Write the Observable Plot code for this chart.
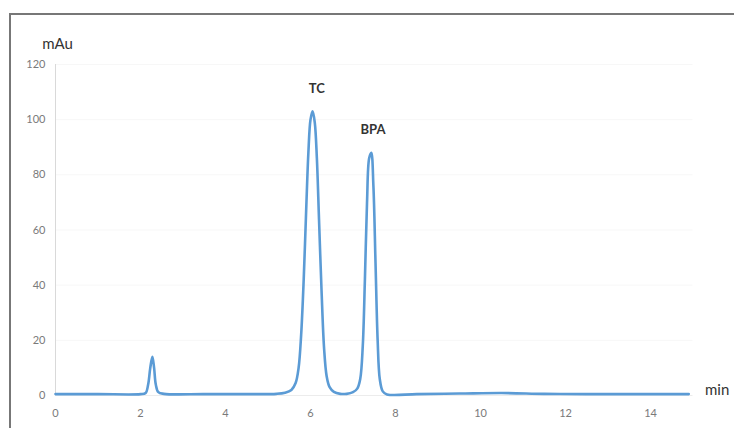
<!DOCTYPE html>
<html>
<head>
<meta charset="utf-8">
<script src="https://cdn.jsdelivr.net/npm/d3@7"></script>
<script src="https://cdn.jsdelivr.net/npm/@observablehq/plot@0.6"></script>
<style>
  html, body { margin: 0; padding: 0; background: #fff; overflow: hidden; }
  #wrap { position: relative; width: 734px; height: 428px; }
  #border { position: absolute; left: 9px; top: 13px; width: 740px; height: 430px; border-left: 2px solid #777; border-top: 2px solid #777; pointer-events: none; }
  #chart { position: absolute; left: 0; top: 0; }
</style>
</head>
<body>
<div id="wrap"><div id="chart"></div><div id="border"></div></div>
<script>
// Retention time (min) and absorbance (mAu)
const time = [0, 1.0, 2.0, 2.12, 2.18, 2.23, 2.28, 2.32, 2.36, 2.42, 2.55, 3.5, 4.5, 5.2, 5.4, 5.55, 5.65, 5.72, 5.78, 5.84, 5.9, 5.95, 6.0, 6.05, 6.1, 6.15, 6.2, 6.26, 6.32, 6.38, 6.45, 6.55, 6.7, 6.85, 7.0, 7.1, 7.17, 7.23, 7.28, 7.33, 7.38, 7.43, 7.48, 7.53, 7.58, 7.63, 7.7, 7.8, 8.5, 9.5, 10.5, 11.5, 12.5, 13.5, 14.9];
const absorbance = [0.5, 0.5, 0.5, 0.9, 4, 10, 14, 10, 4, 1.2, 0.6, 0.5, 0.5, 0.6, 1.0, 2.0, 4.5, 10, 22, 42, 68, 88, 100, 103, 99, 86, 64, 38, 17, 7, 3, 1.3, 0.6, 0.6, 1.2, 2.5, 6, 18, 42, 70, 86, 88, 76, 48, 20, 6, 1.5, 0.4, 0.5, 0.7, 0.9, 0.6, 0.5, 0.5, 0.5];

const peakNames = ["TC", "BPA"];
const peakX = [6.15, 7.47];
const peakY = [103, 88];

const xTicks = [0, 2, 4, 6, 8, 10, 12, 14];
const yTicks = [0, 20, 40, 60, 80, 100, 120];

const signal = time.map((t, i) => ({t, v: absorbance[i]}));
const peaks = peakNames.map((n, i) => ({name: n, x: peakX[i], y: peakY[i]}));

const chart = Plot.plot({
  width: 734,
  height: 428,
  marginLeft: 55,
  marginRight: 41.5,
  marginTop: 64,
  marginBottom: 33,
  style: {fontFamily: "Lato, 'Open Sans', sans-serif", background: "transparent"},
  x: {domain: [0, 15]},
  y: {domain: [0, 120]},
  marks: [
    Plot.gridY(yTicks.slice(1), {stroke: "#f7f7f7", strokeOpacity: 1}),
    Plot.ruleX([0], {stroke: "#d9d9d9", strokeWidth: 1}),
    Plot.ruleY([0], {stroke: "#ececec", strokeWidth: 1}),
    Plot.axisX({ticks: xTicks, tickSize: 0, tickPadding: 14, fontSize: 11, color: "#7a7a7a", label: null}),
    Plot.axisY({ticks: yTicks, tickSize: 0, tickPadding: 10, fontSize: 11, color: "#7a7a7a", label: null}),
    Plot.line(signal, {x: "t", y: "v", stroke: "#5b9bd5", strokeWidth: 2.6, curve: "catmull-rom"}),
    Plot.text(peaks, {x: "x", y: "y", text: "name", dy: -23, fontSize: 13, fontWeight: "bold", fill: "#333"}),
    Plot.text(["mAu"], {frameAnchor: "top-left", dx: 2, dy: -26, fontSize: 15, fill: "#333", textAnchor: "middle"}),
    Plot.text(["min"], {frameAnchor: "bottom-right", dx: 12, dy: -1, fontSize: 15, fill: "#333", textAnchor: "start"})
  ]
});
document.getElementById("chart").appendChild(chart);
</script>
</body>
</html>
